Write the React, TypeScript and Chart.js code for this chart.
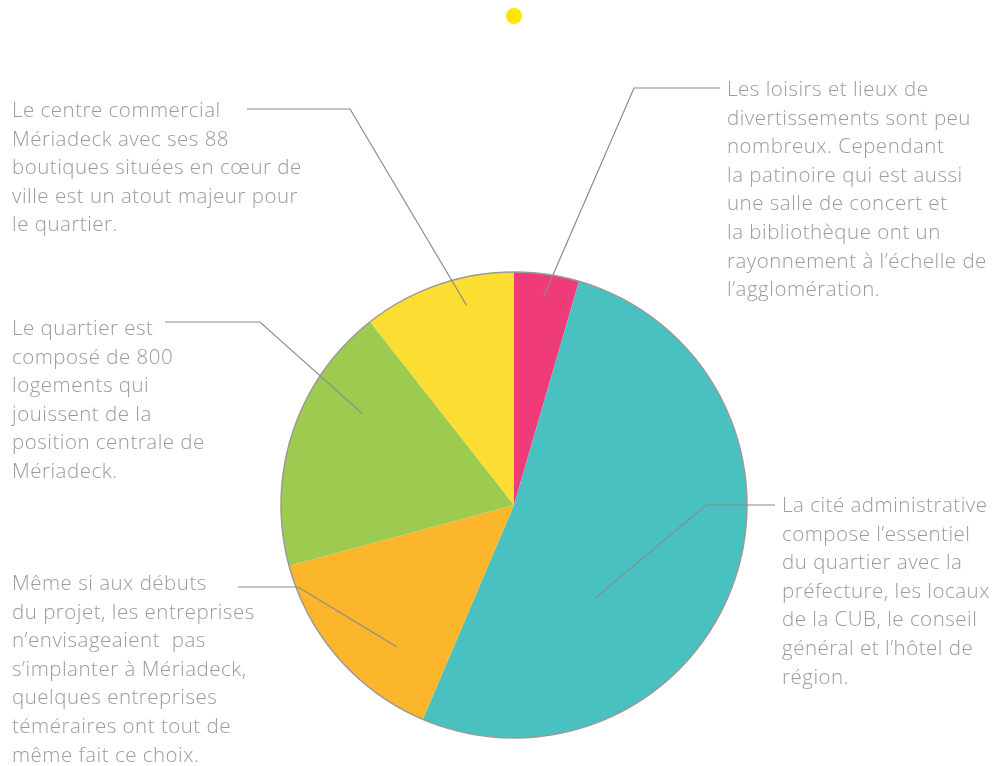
import React, { useEffect, useRef } from "react";
import { Chart, registerables } from "chart.js";

Chart.register(...registerables);

const labels = ["Loisirs", "Cité administrative", "Entreprises", "Logements", "Centre commercial"];
const values = [4.5, 51.9, 14.4, 18.6, 10.6];
const colors = ["#EF3B7A", "#49C1C0", "#FBB62B", "#9DCB4F", "#FCDD31"];

const texts: string[][] = [
  [
    "Les loisirs et lieux de",
    "divertissements sont peu",
    "nombreux. Cependant",
    "la patinoire qui est aussi",
    "une salle de concert et",
    "la bibliothèque ont un",
    "rayonnement à l’échelle de",
    "l’agglomération.",
  ],
  [
    "La cité administrative",
    "compose l’essentiel",
    "du quartier avec la",
    "préfecture, les locaux",
    "de la CUB, le conseil",
    "général et l’hôtel de",
    "région.",
  ],
  [
    "Même si aux débuts",
    "du projet, les entreprises",
    "n’envisageaient  pas",
    "s’implanter à Mériadeck,",
    "quelques entreprises",
    "téméraires ont tout de",
    "même fait ce choix.",
  ],
  [
    "Le quartier est",
    "composé de 800",
    "logements qui",
    "jouissent de la",
    "position centrale de",
    "Mériadeck.",
  ],
  [
    "Le centre commercial",
    "Mériadeck avec ses 88",
    "boutiques situées en cœur de",
    "ville est un atout majeur pour",
    "le quartier.",
  ],
];

const textPos = [
  { left: 727, top: 74 },
  { left: 782, top: 490 },
  { left: 12, top: 568 },
  { left: 12, top: 313 },
  { left: 12, top: 95 },
];
const leaders = [
  { xText: 720, xElbow: 634, y: 88, frac: 0.5, rFrac: 0.905 },
  { xText: 775, xElbow: 706, y: 505, frac: 0.655, rFrac: 0.53 },
  { xText: 238, xElbow: 298, y: 587, frac: 0.32, rFrac: 0.79 },
  { xText: 165, xElbow: 260, y: 322, frac: 0.69, rFrac: 0.76 },
  { xText: 247, xElbow: 350, y: 109, frac: 0.65, rFrac: 0.88 },
];

const FONT = "'Open Sans', Lato, sans-serif";

const leaderPlugin = {
  id: "leaders",
  afterDatasetsDraw(chart: any) {
    const ctx = chart.ctx;
    const meta = chart.getDatasetMeta(0);
    const first = meta.data[0];
    if (!first) return;
    const cx = first.x;
    const cy = first.y;
    const R = first.outerRadius;
    ctx.save();
    ctx.beginPath();
    ctx.arc(cx, cy, R, 0, Math.PI * 2);
    ctx.strokeStyle = "#9a9a9a";
    ctx.lineWidth = 1.5;
    ctx.stroke();
    ctx.strokeStyle = "#8a8a8a";
    ctx.lineWidth = 1.2;
    leaders.forEach((l, i) => {
      const arc = meta.data[i];
      const a = arc.startAngle + (arc.endAngle - arc.startAngle) * l.frac;
      const px = cx + Math.cos(a) * R * l.rFrac;
      const py = cy + Math.sin(a) * R * l.rFrac;
      ctx.beginPath();
      ctx.moveTo(l.xText, l.y);
      ctx.lineTo(l.xElbow, l.y);
      ctx.lineTo(px, py);
      ctx.stroke();
    });
    ctx.restore();
  },
};

export default function App() {
  const ref = useRef<HTMLCanvasElement>(null);
  useEffect(() => {
    if (!ref.current) return;
    const chart = new Chart(ref.current, {
      type: "pie",
      data: {
        labels,
        datasets: [
          {
            data: values,
            backgroundColor: colors,
            borderWidth: 0,
          },
        ],
      },
      options: {
        animation: false,
        responsive: false,
        maintainAspectRatio: false,
        layout: { padding: { left: 281, right: 257, top: 272, bottom: 28 } },
        plugins: {
          legend: { display: false },
          tooltip: { enabled: false },
        },
      },
      plugins: [leaderPlugin],
    });
    return () => chart.destroy();
  }, []);

  return (
    <div style={{ position: "absolute", left: 0, top: 0, width: 1004, height: 766, background: "#fff", overflow: "hidden" }}>
      <canvas ref={ref} width={1004} height={766} style={{ position: "absolute", left: 0, top: 0 }} />
      <div
        style={{
          position: "absolute",
          left: 506,
          top: 8,
          width: 16,
          height: 16,
          borderRadius: "50%",
          background: "#FFE600",
        }}
      />
      {texts.map((lines, i) => (
        <div
          key={i}
          style={{
            position: "absolute",
            left: textPos[i].left,
            top: textPos[i].top,
            fontFamily: FONT,
            fontWeight: 300,
            fontSize: 20.5,
            letterSpacing: "0.5px",
            lineHeight: "28.6px",
            color: "#9b9b9b",
            whiteSpace: "pre",
          }}
        >
          {lines.map((ln, j) => (
            <div key={j}>{ln}</div>
          ))}
        </div>
      ))}
    </div>
  );
}
